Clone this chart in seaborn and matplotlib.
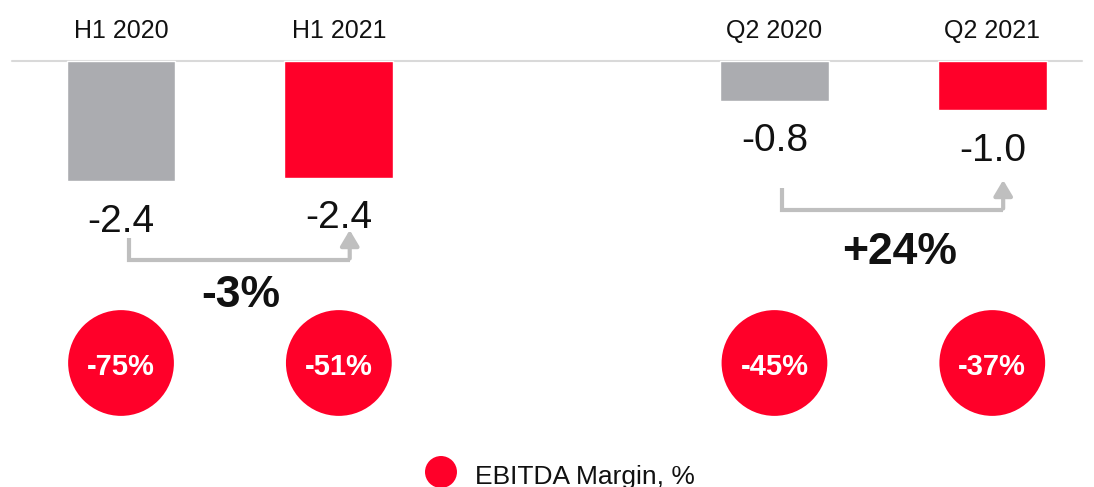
import matplotlib
matplotlib.use("Agg")
import matplotlib.pyplot as plt
import pandas as pd
import seaborn as sns

# ---- data ----
periods = ["H1 2020", "H1 2021", "Q2 2020", "Q2 2021"]
positions = [0, 1, 3, 4]
ebitda = [-2.40, -2.33, -0.79, -0.98]
ebitda_labels = ["-2.4", "-2.4", "-0.8", "-1.0"]
margin_labels = ["-75%", "-51%", "-45%", "-37%"]
change_labels = ["-3%", "+24%"]
legend_label = "EBITDA Margin, %"

# ---- style ----
GRAY = "#ABACB0"
RED = "#FF0029"
ARROW = "#BFBFBF"
LINE = "#D9D9D9"

sns.set_theme(style="white")
plt.rcParams["font.family"] = ["Liberation Sans", "DejaVu Sans"]

fig = plt.figure(figsize=(10.94, 4.87), dpi=100)
ax = fig.add_axes([0, 0, 1, 1])

df = pd.DataFrame({"period": periods, "pos": positions, "ebitda": ebitda})
palette = {p: c for p, c in zip(periods, [GRAY, RED, GRAY, RED])}
sns.barplot(data=df, x="pos", y="ebitda", hue="period", palette=palette,
            native_scale=True, width=0.5, dodge=False, legend=False,
            saturation=1, ax=ax, zorder=2)

ax.set_xlim(-0.5556, 4.467)
ax.set_ylim(-8.52, 1.22)
ax.axis("off")

# baseline
ax.axhline(0, xmin=0.011, xmax=0.989, color=LINE, lw=1.5, zorder=1)

# headers
for p, lab in zip(positions, periods):
    ax.text(p, 0.46, lab, ha="center", va="baseline", fontsize=18, color="#111111")

# value labels
for p, v, lab in zip(positions, ebitda, ebitda_labels):
    ax.annotate(lab, (p, v), xytext=(0, -36.5), textcoords="offset points",
                ha="center", va="baseline", fontsize=28, color="#111111")

# change arrows
arrow_pairs = [(0, 1), (3, 4)]
arrow_start = [-3.54, -2.54]
change_label_pos = [(0.55, -4.92), (3.575, -4.05)]
for (i0, i1), y0, lab, (lx, ly) in zip(arrow_pairs, arrow_start, change_labels, change_label_pos):
    x0 = i0 + 0.035
    x1 = i1 + 0.05
    yh = y0 - 0.44
    tip = y0 + 0.16
    ax.plot([x0, x0, x1], [y0, yh, yh], color=ARROW, lw=3,
            solid_capstyle="butt", solid_joinstyle="miter", zorder=2)
    ax.annotate("", xy=(x1, tip), xytext=(x1, yh + 0.03),
                arrowprops=dict(arrowstyle="-|>,head_length=0.47,head_width=0.28",
                                mutation_scale=20, color=ARROW, lw=3,
                                shrinkA=0, shrinkB=0), zorder=2)
    ax.text(lx, ly, lab, ha="center", va="baseline",
            fontsize=32, fontweight="bold", color="#111111")

# margin circles
circle_y = [-6.04] * len(positions)
sns.scatterplot(x=positions, y=circle_y, s=5800, color=RED, edgecolor="none",
                legend=False, ax=ax, zorder=3)
for p, y, lab in zip(positions, circle_y, margin_labels):
    ax.text(p, y - 0.02, lab, ha="center", va="center_baseline", fontsize=21,
            fontweight="bold", color="white", zorder=4)

# legend
ax.scatter([1.469], [-8.22], s=530, color=RED, edgecolor="none", zorder=3, clip_on=False)
ax.text(1.625, -8.46, legend_label, ha="left", va="baseline", fontsize=19, color="#111111")

fig.savefig("out.png", dpi=100)
